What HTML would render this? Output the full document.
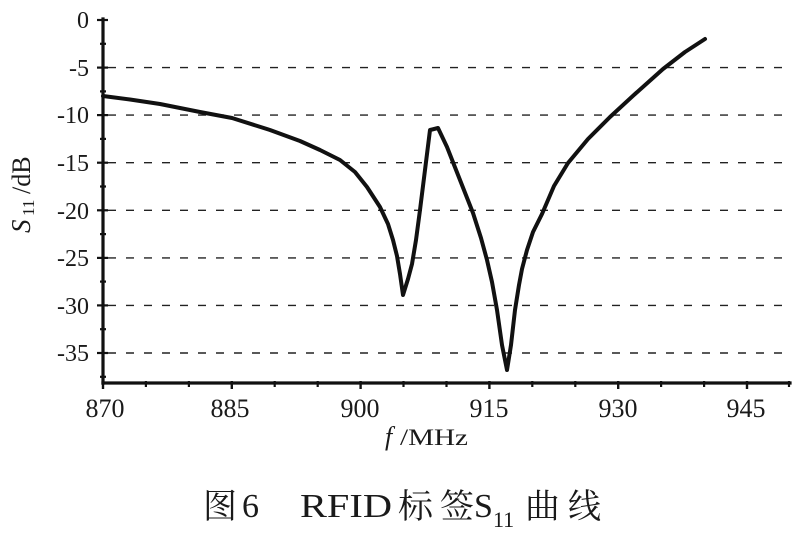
<!DOCTYPE html>
<html>
<head>
<meta charset="utf-8">
<style>
  html, body { margin: 0; padding: 0; background: #fff; }
  svg { display: block; }
  .num { font-family: "Liberation Serif", serif; fill: #1a1a1a; }
  .cjk { font-family: "Liberation Serif", "Noto Serif CJK SC", serif; fill: #1a1a1a; }
</style>
</head>
<body>
<svg width="810" height="534" viewBox="0 0 810 534" xmlns="http://www.w3.org/2000/svg">
  <rect width="810" height="534" fill="#fff"/>

  <!-- dashed grid -->
  <g stroke="#222" stroke-width="1.4" stroke-dasharray="8 10" fill="none">
    <line x1="108" y1="67.6" x2="792" y2="67.6"/>
    <line x1="108" y1="115.1" x2="792" y2="115.1"/>
    <line x1="108" y1="162.7" x2="792" y2="162.7"/>
    <line x1="108" y1="210.3" x2="792" y2="210.3"/>
    <line x1="108" y1="257.9" x2="792" y2="257.9"/>
    <line x1="108" y1="305.4" x2="792" y2="305.4"/>
    <line x1="108" y1="353.0" x2="792" y2="353.0"/>
  </g>

  <!-- axes -->
  <g stroke="#111" stroke-width="3.2" fill="none" stroke-linecap="square">
    <line x1="103" y1="19" x2="103" y2="383"/>
    <line x1="103" y1="383" x2="790" y2="383"/>
  </g>

  <!-- y ticks major -->
  <g stroke="#111" stroke-width="2.2">
    <line x1="97" y1="20" x2="108" y2="20"/>
    <line x1="97" y1="67.6" x2="108" y2="67.6"/>
    <line x1="97" y1="115.1" x2="108" y2="115.1"/>
    <line x1="97" y1="162.7" x2="108" y2="162.7"/>
    <line x1="97" y1="210.3" x2="108" y2="210.3"/>
    <line x1="97" y1="257.9" x2="108" y2="257.9"/>
    <line x1="97" y1="305.4" x2="108" y2="305.4"/>
    <line x1="97" y1="353.0" x2="108" y2="353.0"/>
  </g>
  <!-- y ticks minor -->
  <g stroke="#111" stroke-width="2.2">
    <line x1="100" y1="43.8" x2="106" y2="43.8"/>
    <line x1="100" y1="91.4" x2="106" y2="91.4"/>
    <line x1="100" y1="138.9" x2="106" y2="138.9"/>
    <line x1="100" y1="186.5" x2="106" y2="186.5"/>
    <line x1="100" y1="234.1" x2="106" y2="234.1"/>
    <line x1="100" y1="281.6" x2="106" y2="281.6"/>
    <line x1="100" y1="329.2" x2="106" y2="329.2"/>
    <line x1="100" y1="376.8" x2="106" y2="376.8"/>
  </g>

  <!-- x ticks -->
  <g stroke="#111" stroke-width="2.4">
    <line x1="103" y1="381" x2="103" y2="389"/>
    <line x1="231.8" y1="381" x2="231.8" y2="389"/>
    <line x1="360.6" y1="381" x2="360.6" y2="389"/>
    <line x1="489.4" y1="381" x2="489.4" y2="389"/>
    <line x1="618.2" y1="381" x2="618.2" y2="389"/>
    <line x1="747" y1="381" x2="747" y2="389"/>
  </g>
  <g stroke="#111" stroke-width="2.2">
    <line x1="145.9" y1="381" x2="145.9" y2="387"/>
    <line x1="188.9" y1="381" x2="188.9" y2="387"/>
    <line x1="274.7" y1="381" x2="274.7" y2="387"/>
    <line x1="317.7" y1="381" x2="317.7" y2="387"/>
    <line x1="403.5" y1="381" x2="403.5" y2="387"/>
    <line x1="446.5" y1="381" x2="446.5" y2="387"/>
    <line x1="532.3" y1="381" x2="532.3" y2="387"/>
    <line x1="575.3" y1="381" x2="575.3" y2="387"/>
    <line x1="661.1" y1="381" x2="661.1" y2="387"/>
    <line x1="704.1" y1="381" x2="704.1" y2="387"/>
    <line x1="789" y1="381" x2="789" y2="387"/>
  </g>

  <!-- curve -->
  <polyline fill="none" stroke="#111" stroke-width="4" stroke-linejoin="round" stroke-linecap="round"
    points="103,96 130,99.5 160,104 200,112 232,118 270,130 300,141 320,150 340,160 355,172 367,187 380,207 388,224 393,240 397,256 400,274 403,295 408,279 412,264 416,240 420,210 425,170 430,130 438,128 447,147 460,180 473,213 481,238 487,260 492,282 497,310 502,345 507,370 511,345 515,310 519,285 522,269 527,250 533,232 542,214 554,186 568,163 588,139 610,117 635,94 663,69 685,52 705,39"/>

  <!-- y tick labels -->
  <g class="num" font-size="24" text-anchor="end">
    <text x="89" y="28">0</text>
    <text x="89" y="76">-5</text>
    <text x="89" y="123">-10</text>
    <text x="89" y="171">-15</text>
    <text x="89" y="219">-20</text>
    <text x="89" y="266">-25</text>
    <text x="89" y="314">-30</text>
    <text x="89" y="361">-35</text>
  </g>

  <!-- x tick labels -->
  <g class="num" font-size="26" text-anchor="middle">
    <text x="105" y="417">870</text>
    <text x="230" y="417">885</text>
    <text x="360" y="417">900</text>
    <text x="489" y="417">915</text>
    <text x="618" y="417">930</text>
    <text x="746" y="417">945</text>
  </g>

  <!-- x axis title -->
  <text class="num" x="385" y="445" font-size="26" font-style="italic">f</text>
  <text class="num" x="400" y="445" font-size="23" textLength="68" lengthAdjust="spacingAndGlyphs">/MHz</text>

  <!-- y axis title -->
  <g transform="translate(30,233) rotate(-90)">
    <text class="num" x="0" y="0" font-size="27" font-style="italic">S</text>
    <text class="num" x="17" y="4" font-size="17">11</text>
    <text class="num" x="39" y="0" font-size="26">/dB</text>
  </g>

  <!-- caption -->
  <g class="cjk">
    <text x="203" y="518" font-size="34" textLength="34" lengthAdjust="spacingAndGlyphs">图</text>
    <text x="242" y="517" font-size="34" font-family="Liberation Serif, serif">6</text>
    <text x="300" y="517" font-size="34" font-family="Liberation Serif, serif" textLength="92" lengthAdjust="spacingAndGlyphs">RFID</text>
    <text x="398" y="518" font-size="34" textLength="35" lengthAdjust="spacingAndGlyphs">标</text>
    <text x="440" y="518" font-size="34" textLength="34" lengthAdjust="spacingAndGlyphs">签</text>
    <text x="474" y="517" font-size="34" font-family="Liberation Serif, serif">S</text>
    <text x="493" y="527" font-size="22" font-family="Liberation Serif, serif">11</text>
    <text x="525" y="518" font-size="34" textLength="35" lengthAdjust="spacingAndGlyphs">曲</text>
    <text x="568" y="518" font-size="34" textLength="33" lengthAdjust="spacingAndGlyphs">线</text>
  </g>
</svg>
</body>
</html>
